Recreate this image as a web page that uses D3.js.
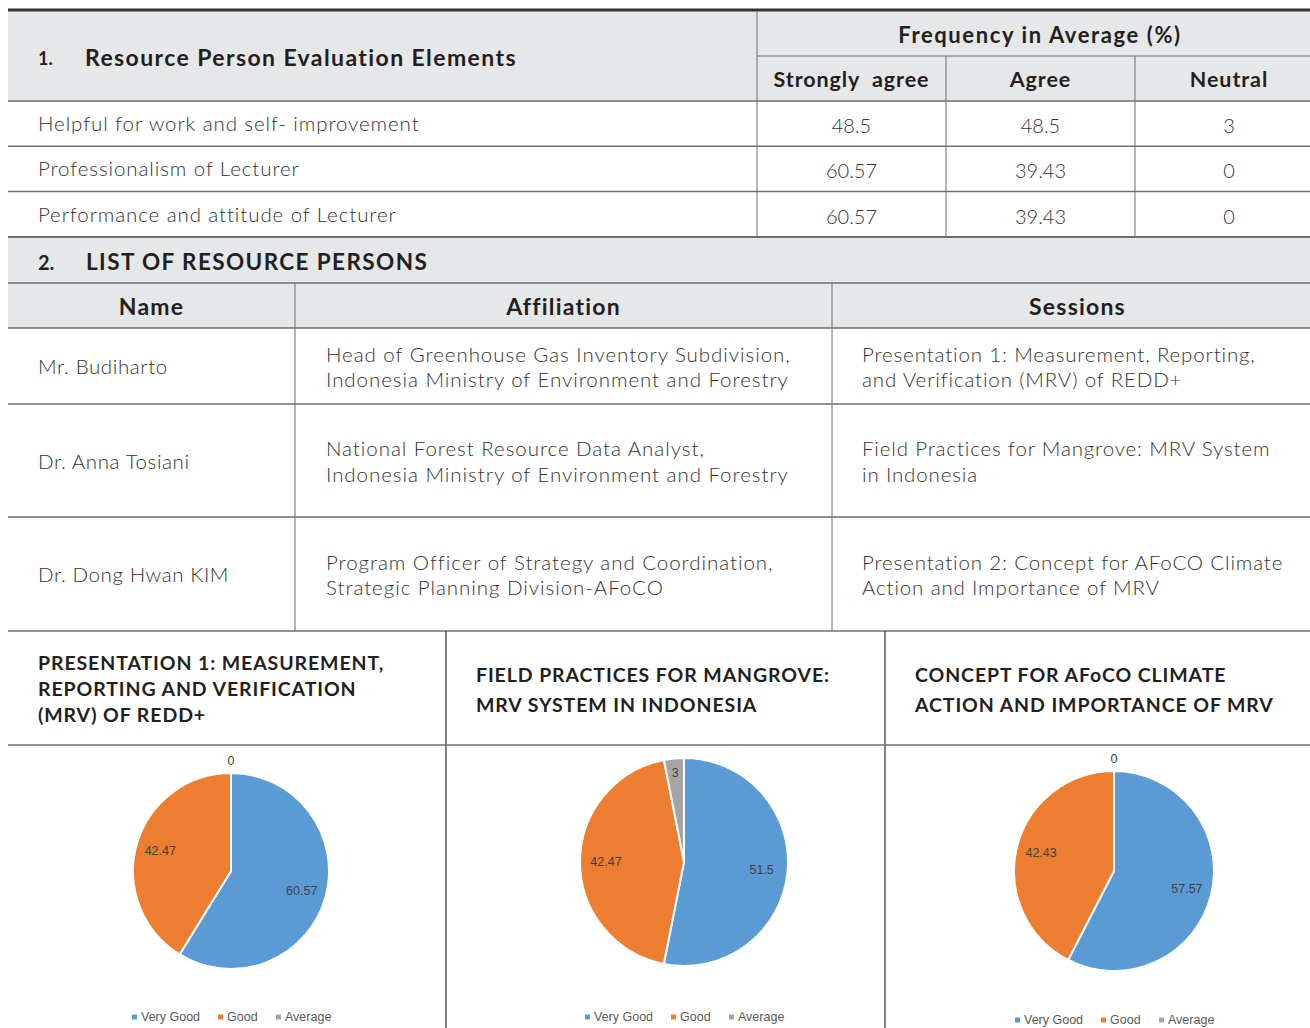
<!DOCTYPE html>
<html>
<head>
  <meta charset="utf-8">
  <title>Resource Person Evaluation</title>
  <style>
    body { margin: 0; background: #fff; }
    svg text { font-family: Lato, "Open Sans", sans-serif; fill: #333; }
    .hd { font-weight: 700; fill: #231f20; }
    .lt { font-weight: 300; }
    .pie-label { font-family: "Liberation Sans", Arial, sans-serif; fill: #404040; }
    .legend text { font-family: "Liberation Sans Narrow", "Liberation Sans", sans-serif; fill: #595959; }
  </style>
  <script src="https://cdn.jsdelivr.net/npm/d3@7"></script>
</head>
<body>
<script>
  // ---- data ----
  var evalTitle = "Resource Person Evaluation Elements";
  var evalGroup = "Frequency in Average (%)";
  var evalCols = ["Strongly  agree", "Agree", "Neutral"];
  var evalRows = ["Helpful for work and self- improvement", "Professionalism of Lecturer", "Performance and attitude of Lecturer"];
  var evalValues = [["48.5", "48.5", "3"], ["60.57", "39.43", "0"], ["60.57", "39.43", "0"]];

  var personTitle = "LIST OF RESOURCE PERSONS";
  var personCols = ["Name", "Affiliation", "Sessions"];
  var personNames = ["Mr. Budiharto", "Dr. Anna Tosiani", "Dr. Dong Hwan KIM"];
  var personAffiliations = [
    ["Head of Greenhouse Gas Inventory Subdivision,", "Indonesia Ministry of Environment and Forestry"],
    ["National Forest Resource Data Analyst,", "Indonesia Ministry of Environment and Forestry"],
    ["Program Officer of Strategy and Coordination,", "Strategic Planning Division-AFoCO"]
  ];
  var personSessions = [
    ["Presentation 1: Measurement, Reporting,", "and Verification (MRV) of REDD+"],
    ["Field Practices for Mangrove: MRV System", "in Indonesia"],
    ["Presentation 2: Concept for AFoCO Climate", "Action and Importance of MRV"]
  ];

  var pieTitles = [
    ["PRESENTATION 1: MEASUREMENT,", "REPORTING AND VERIFICATION", "(MRV) OF REDD+"],
    ["FIELD PRACTICES FOR MANGROVE:", "MRV SYSTEM IN INDONESIA"],
    ["CONCEPT FOR AFoCO CLIMATE", "ACTION AND IMPORTANCE OF MRV"]
  ];
  var pieCategories = ["Very Good", "Good", "Average"];
  var pieValues1 = [60.57, 42.47, 0];
  var pieValues2 = [51.5, 42.47, 3];
  var pieValues3 = [57.57, 42.43, 0];
  var pieColors = ["#5b9bd5", "#ed7d31", "#a5a5a5"];

  // ---- layout ----
  var width = 1310, height = 1028;
  var left = 8, right = 1310, tableRight = 1323; // table runs past the page edge
  var gray = "#e6e7e8", lineColor = "#6d6e71";

  var svg = d3.select("body").append("svg")
    .attr("width", width)
    .attr("height", height);

  function hline(y, x0, x1, w, c) {
    svg.append("line").attr("x1", x0).attr("x2", x1).attr("y1", y).attr("y2", y)
      .attr("stroke", c || lineColor).attr("stroke-width", w || 1.5);
  }
  function vline(x, y0, y1, w, c) {
    svg.append("line").attr("x1", x).attr("x2", x).attr("y1", y0).attr("y2", y1)
      .attr("stroke", c || "#6d6e71").attr("stroke-width", w || 1);
  }
  function txt(x, y, s, size, cls, anchor, ls) {
    return svg.append("text").attr("x", x).attr("y", y)
      .attr("dominant-baseline", "central")
      .attr("text-anchor", anchor || "start")
      .attr("font-size", size + "px")
      .attr("class", cls || "lt")
      .style("letter-spacing", (ls || 0) + "px")
      .style("white-space", "pre")
      .text(s);
  }

  // section 1 : evaluation table
  var colX = [757, 946, 1135, tableRight];
  var rowY = d3.range(evalRows.length + 1).map(i => 101 + i * 45.3);

  svg.append("rect").attr("x", left).attr("y", 10).attr("width", right - left).attr("height", 91).attr("fill", gray);
  hline(10, left, right, 3, "#333");
  hline(56, colX[0], right, 1.2);
  rowY.forEach((y, i) => hline(y, left, right, i == rowY.length - 1 ? 2 : 1.5));
  vline(colX[0], 11, rowY[rowY.length - 1]);
  evalCols.forEach((c, i) => { if (i > 0) vline(colX[i], 56, rowY[rowY.length - 1]); });

  txt(38, 58, "1.", 18, "hd");
  txt(85, 57, evalTitle, 23, "hd", "start", 1.4);
  txt((colX[0] + tableRight) / 2, 34, evalGroup, 22, "hd", "middle", 1.6);
  evalCols.forEach((c, i) => txt((colX[i] + colX[i + 1]) / 2, 79, c, 21.5, "hd", "middle", 0.9));
  evalRows.forEach((r, i) => {
    var cy = (rowY[i] + rowY[i + 1]) / 2 - 0.5;
    txt(38, cy, r, 20.5, "lt", "start", 0.9);
    evalValues[i].forEach((v, j) => txt((colX[j] + colX[j + 1]) / 2, cy + 2, v, 20, "lt", "middle"));
  });

  // section 2 : resource persons
  var pColX = [left, 295, 832, tableRight];
  var pRowY = [328, 404, 517, 631];
  svg.append("rect").attr("x", left).attr("y", 238).attr("width", right - left).attr("height", 90).attr("fill", gray);
  hline(283, left, right, 1.5);
  hline(328, left, right, 1.5);
  vline(pColX[1], 283, 631);
  vline(pColX[2], 283, 631);
  pRowY.slice(1).forEach(y => hline(y, left, right, 1.5));

  txt(38, 262, "2.", 20, "hd");
  txt(86, 261, personTitle, 22.5, "hd", "start", 1.4);
  personCols.forEach((c, i) => txt((pColX[i] + pColX[i + 1]) / 2, 306, c, 23, "hd", "middle", 1.2));
  personNames.forEach((n, i) => {
    var cy = (pRowY[i] + pRowY[i + 1]) / 2;
    txt(38, cy, n, 20.5, "lt", "start", 0.6);
    personAffiliations[i].forEach((l, k) => txt(326, cy - 12.5 + k * 25.5, l, 20.5, "lt", "start", 0.95));
    personSessions[i].forEach((l, k) => txt(862, cy - 12.5 + k * 25.5, l, 20.5, "lt", "start", 0.85));
  });

  // section 3 : pies
  var pieCols = [left, 446, 885, right];
  vline(pieCols[1], 631, height, 1.2, "#333");
  vline(pieCols[2], 631, height, 1.2, "#333");
  hline(745, left, right, 1.5);

  var titleY = [[662, 688, 714], [674, 704], [674, 704]];
  pieTitles.forEach((t, i) => {
    t.forEach((l, k) => txt(pieCols[i] + 30, titleY[i][k], l, 19.5, "hd", "start", 0.9));
  });

  var pies = [
    {values: pieValues1, cx: 231, cy: 871, r: 98, legendY: 1017},
    {values: pieValues2, cx: 684, cy: 862, r: 104, legendY: 1017},
    {values: pieValues3, cx: 1114, cy: 871, r: 100, legendY: 1020}
  ];
  var color = d3.scaleOrdinal().domain(pieCategories).range(pieColors);
  var pie = d3.pie().sort(null).value(d => d.value);

  pies.forEach(p => {
    var data = pieCategories.map((c, i) => ({cat: c, value: p.values[i]}));
    var arcs = pie(data);
    var arc = d3.arc().innerRadius(0).outerRadius(p.r);
    var labelArc = d3.arc().innerRadius(p.r * 0.75).outerRadius(p.r * 0.75);
    var smallArc = d3.arc().innerRadius(p.r * 0.86).outerRadius(p.r * 0.86);
    var g = svg.append("g").attr("transform", "translate(" + p.cx + "," + p.cy + ")");

    g.selectAll("path").data(arcs).enter().append("path")
      .attr("d", arc)
      .attr("fill", d => color(d.data.cat))
      .attr("stroke", "#fff")
      .attr("stroke-width", 2);

    g.selectAll("text").data(arcs).enter().append("text")
      .attr("class", "pie-label")
      .attr("font-size", "12.5px")
      .attr("text-anchor", "middle")
      .attr("dominant-baseline", "central")
      .attr("transform", d => {
        if (d.data.value == 0) return "translate(0," + (-p.r - 12) + ")";
        var c = (d.endAngle - d.startAngle) < 0.5 ? smallArc.centroid(d) : labelArc.centroid(d);
        return "translate(" + c + ")";
      })
      .text(d => d.data.value);

    // legend
    var lg = svg.append("g").attr("class", "legend");
    var widths = [86, 58, 56];
    var x = p.cx - 99;
    pieCategories.forEach((c, i) => {
      lg.append("rect").attr("x", x).attr("y", p.legendY - 2.5).attr("width", 5).attr("height", 5).attr("fill", color(c));
      lg.append("text").attr("x", x + 9).attr("y", p.legendY).attr("dominant-baseline", "central")
        .attr("font-size", "12.5px").text(c);
      x += widths[i];
    });
  });
</script>
</body>
</html>
